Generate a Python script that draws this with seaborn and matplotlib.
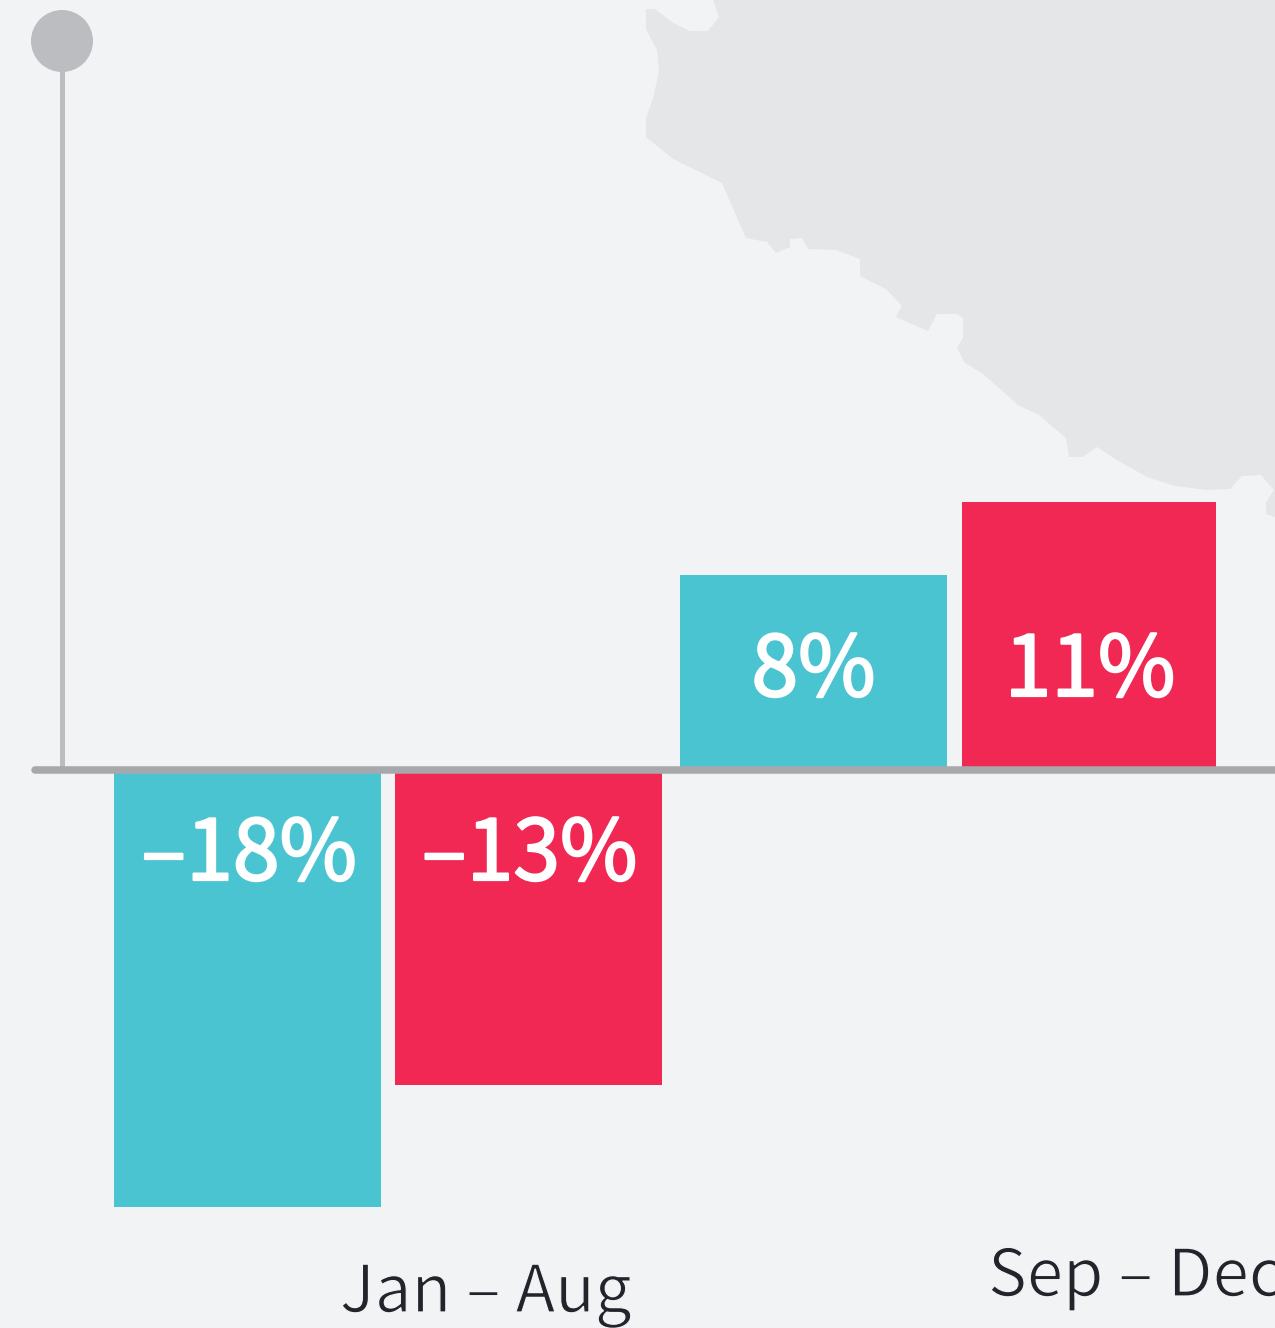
#! /usr/bin/env python3
# imports
from matplotlib.patches import Circle, Polygon
import matplotlib.patheffects as pe
import matplotlib.pyplot as plt
import seaborn as sns

# data
values = [-18, -13, 8, 11]
value_labels = ['–18%', '–13%', '8%', '11%']
period_labels = ['Jan – Aug', 'Sep – Dec']

# layout, in pixels of the picture
W, H = 1275, 1328
ZERO_Y = 770
BAR_ZERO_Y = 769.5
PX_PER_PCT = 24.3
bar_left = [114, 395, 680, 962]
bar_right = [381, 662, 947, 1216]
label_x = [249, 529.5, 813.5, 1090]
label_y = [880, 880, 696, 696]
period_x = [486, 1135]
period_y = [1312, 1296]

# colours
BG = '#f2f3f5'
MAP = '#e5e6e8'
TEAL = '#4bc4d1'
RED = '#f02853'
PIN = '#bcbdc0'
AXIS = '#a7a8ac'
bar_colors = [TEAL, RED, TEAL, RED]

# background land shape
land = [(646, 9), (655, 9), (673, 23), (690, 31), (708, 31), (719, 17), (713, 0),
        (1275, 0), (1275, 517), (1266, 514), (1266, 502), (1274, 490), (1261, 475),
        (1242, 476), (1230, 489), (1207, 490), (1175, 486), (1147, 477), (1115, 459),
        (1097, 447), (1083, 457), (1069, 457), (1066, 438), (1039, 415), (1018, 405),
        (983, 374), (965, 363), (957, 348), (963, 338), (963, 318), (957, 314),
        (937, 314), (928, 331), (896, 317), (902, 306), (886, 289), (860, 276),
        (860, 259), (836, 250), (808, 249), (802, 238), (790, 239), (790, 247),
        (776, 253), (767, 242), (746, 238), (722, 183), (673, 159), (646, 137),
        (646, 118), (653, 99), (659, 71), (657, 50), (646, 29)]

# settings
sns.set_style("white")
plt.rcParams['font.family'] = ['Noto Sans CJK SC', 'DejaVu Sans']

fig = plt.figure(figsize=(W / 100, H / 100), dpi=100, facecolor=BG)

# background layer in pixels
back = fig.add_axes([0, 0, 1, 1], zorder=0)
back.set_xlim(0, W)
back.set_ylim(H, 0)
back.axis('off')
back.add_patch(Polygon(land, closed=True, facecolor=MAP, edgecolor='none'))
back.plot([62, 62], [41, ZERO_Y], color=PIN, lw=5 * 0.72, solid_capstyle='butt')
back.add_patch(Circle((62, 41), 31, facecolor=PIN, edgecolor='none'))

# bars, y in percent
ax = fig.add_axes([0, 0, 1, 1], zorder=1)
ax.patch.set_alpha(0)
for i in range(len(values)):
    center = (bar_left[i] + bar_right[i]) / 2
    sns.barplot(x=[center], y=[values[i]], native_scale=True, ax=ax, color=bar_colors[i],
                saturation=1, width=bar_right[i] - bar_left[i], linewidth=0)
ax.set_xlim(0, W)
ax.set_ylim((BAR_ZERO_Y - H) / PX_PER_PCT, BAR_ZERO_Y / PX_PER_PCT)
ax.axis('off')

# axis line and text on top, in pixels
front = fig.add_axes([0, 0, 1, 1], zorder=2)
front.patch.set_alpha(0)
front.set_xlim(0, W)
front.set_ylim(H, 0)
front.axis('off')
front.plot([35, W + 20], [ZERO_Y, ZERO_Y], color=AXIS, lw=7.5 * 0.72, solid_capstyle='round')

# only regular and bold are installed, so thicken or thin the outline
for i in range(len(values)):
    front.text(label_x[i], label_y[i], value_labels[i], color='white', fontsize=60.5,
               ha='center', va='baseline',
               path_effects=[pe.Stroke(linewidth=1.6, foreground='white')])
for i in range(len(period_labels)):
    front.text(period_x[i], period_y[i], period_labels[i], color='#23232b', fontsize=47,
               ha='center', va='baseline', clip_on=False,
               path_effects=[pe.Stroke(linewidth=0.9, foreground=BG)])

fig.savefig('out.png', dpi=100, facecolor=BG)
plt.close()
